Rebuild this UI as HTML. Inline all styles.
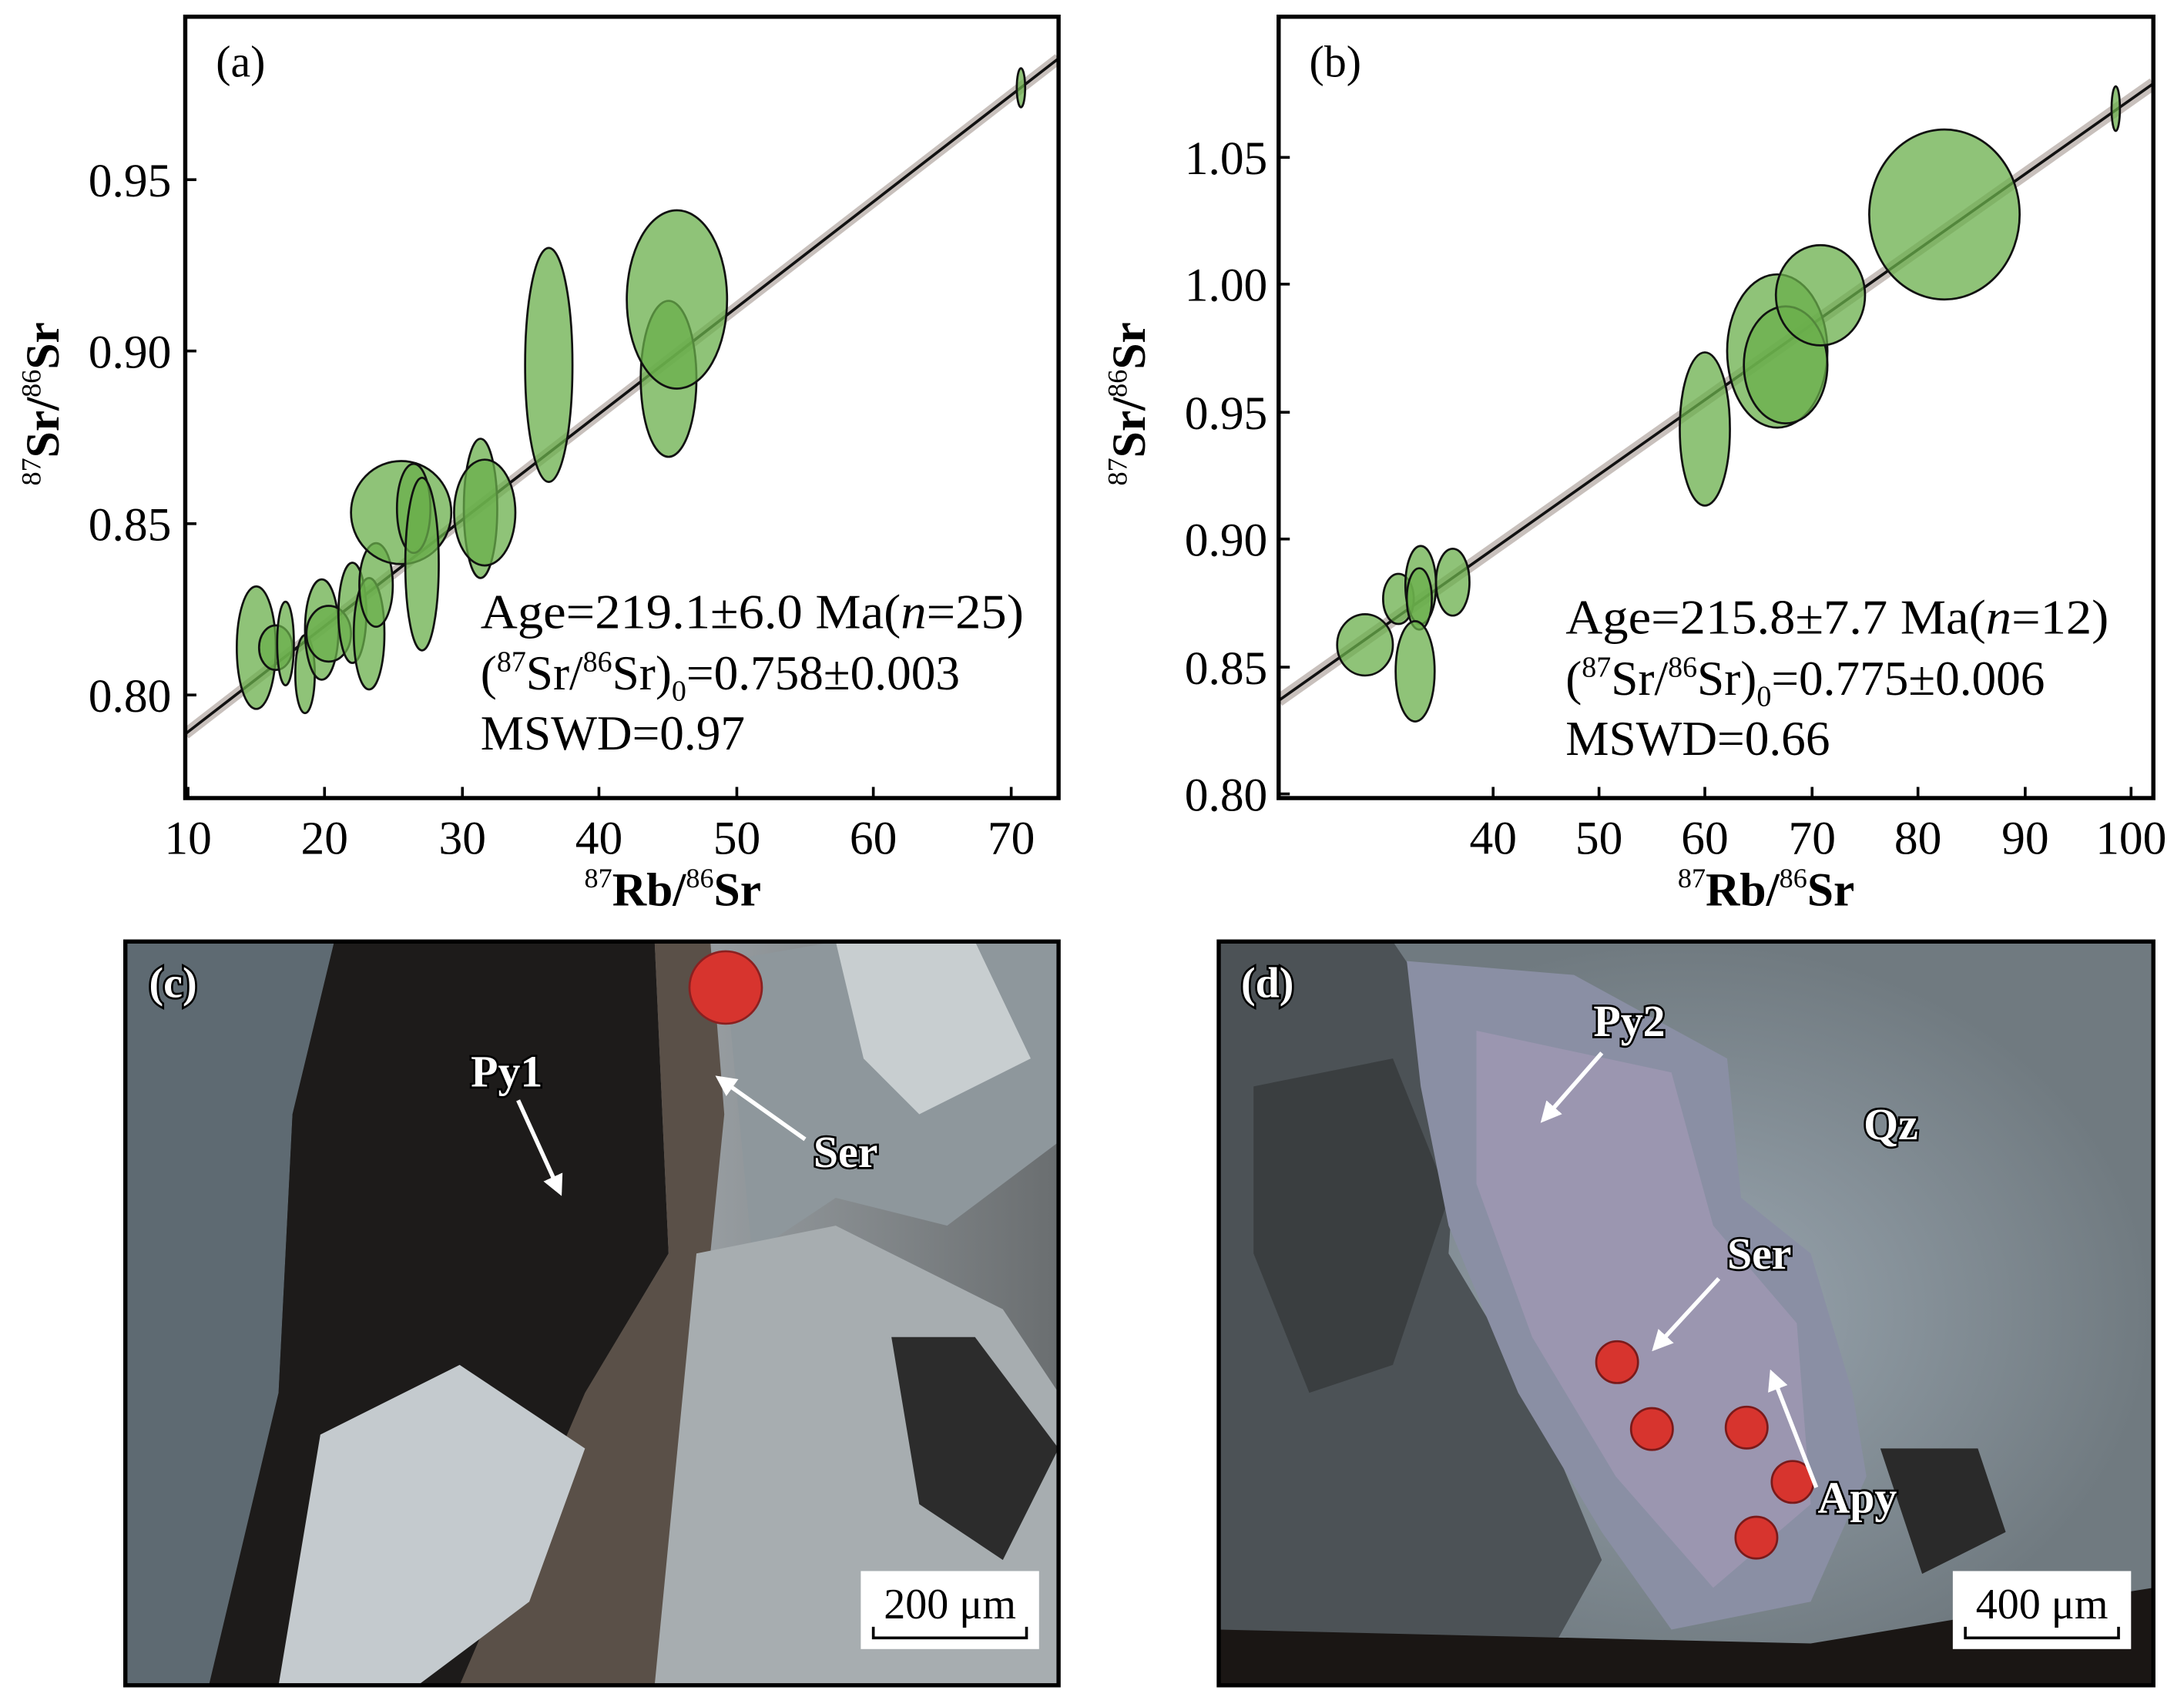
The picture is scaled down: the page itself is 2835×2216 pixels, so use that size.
<!DOCTYPE html>
<html><head><meta charset="utf-8"><style>html,body{margin:0;padding:0;background:#fff}svg{display:block}text{font-family:"Liberation Serif",serif;fill:#000}.lb{fill:#fff;stroke:#000;stroke-width:3;paint-order:stroke;font-weight:bold}</style></head>
<body>
<svg width="2835" height="2216" viewBox="0 0 1568 1225.6" preserveAspectRatio="none" xmlns="http://www.w3.org/2000/svg">
<defs>
<clipPath id="ca"><rect x="133" y="12" width="627" height="561"/></clipPath>
<clipPath id="cb"><rect x="918" y="12" width="628" height="561"/></clipPath>
<clipPath id="cc"><rect x="90" y="676" width="670" height="534"/></clipPath>
<clipPath id="cd"><rect x="875" y="676" width="671" height="534"/></clipPath>
<linearGradient id="gc" x1="0" x2="1" y1="0" y2="0"><stop offset="0" stop-color="#5a6670"/><stop offset="0.2" stop-color="#2a2a2a"/><stop offset="0.5" stop-color="#1a1a1a"/><stop offset="0.6" stop-color="#9aa0a4"/><stop offset="1" stop-color="#6a6e70"/></linearGradient>
<radialGradient id="gd" cx="0.5" cy="0.5" r="0.5"><stop offset="0" stop-color="#9aa6b0"/><stop offset="1" stop-color="#707a80"/></radialGradient>
<marker id="ah" viewBox="0 0 10 10" refX="8" refY="5" markerWidth="5" markerHeight="5" orient="auto"><path d="M0 0L10 5L0 10z" fill="#fff"/></marker>
</defs>
<!-- panel a -->
<g clip-path="url(#ca)">
<line x1="133" y1="527" x2="760" y2="42" stroke="#c8c0bc" stroke-width="8"/>
<line x1="133" y1="527" x2="760" y2="42" stroke="#111" stroke-width="2"/>
<g fill="rgba(105,175,75,0.75)" stroke="#111" stroke-width="1.5">
<ellipse cx="184" cy="465" rx="14" ry="44"/><ellipse cx="198" cy="465" rx="12" ry="16"/><ellipse cx="205" cy="462" rx="6" ry="30"/><ellipse cx="219" cy="484" rx="7" ry="28"/><ellipse cx="231" cy="452" rx="12" ry="36"/><ellipse cx="236" cy="455" rx="16" ry="20"/><ellipse cx="253" cy="440" rx="10" ry="36"/><ellipse cx="265" cy="455" rx="11" ry="40"/><ellipse cx="270" cy="420" rx="12" ry="30"/><ellipse cx="288" cy="368" rx="36" ry="37"/><ellipse cx="297" cy="365" rx="12" ry="32"/><ellipse cx="303" cy="405" rx="12" ry="62"/><ellipse cx="345" cy="365" rx="12" ry="50"/><ellipse cx="348" cy="368" rx="22" ry="38"/><ellipse cx="394" cy="262" rx="17" ry="84"/><ellipse cx="480" cy="272" rx="20" ry="56"/><ellipse cx="486" cy="215" rx="36" ry="64"/><ellipse cx="733" cy="63" rx="3" ry="14"/>
</g></g>
<rect x="133" y="12" width="627" height="561" fill="none" stroke="#000" stroke-width="3"/>
<g stroke="#000" stroke-width="2">
<line x1="135" y1="573" x2="135" y2="565"/><line x1="233" y1="573" x2="233" y2="565"/><line x1="332" y1="573" x2="332" y2="565"/><line x1="430" y1="573" x2="430" y2="565"/><line x1="529" y1="573" x2="529" y2="565"/><line x1="627" y1="573" x2="627" y2="565"/><line x1="726" y1="573" x2="726" y2="565"/>
<line x1="133" y1="129" x2="141" y2="129"/><line x1="133" y1="252" x2="141" y2="252"/><line x1="133" y1="376" x2="141" y2="376"/><line x1="133" y1="499" x2="141" y2="499"/>
</g>
<g font-size="34" text-anchor="middle">
<text x="135" y="613">10</text><text x="233" y="613">20</text><text x="332" y="613">30</text><text x="430" y="613">40</text><text x="529" y="613">50</text><text x="627" y="613">60</text><text x="726" y="613">70</text>
</g>
<g font-size="34" text-anchor="end">
<text x="123" y="141">0.95</text><text x="123" y="264">0.90</text><text x="123" y="388">0.85</text><text x="123" y="511">0.80</text>
</g>
<text x="155" y="55" font-size="32">(a)</text>
<text x="483" y="650" font-size="34" text-anchor="middle" font-weight="bold"><tspan font-size="20" dy="-13" font-weight="normal">87</tspan><tspan dy="13">Rb/</tspan><tspan font-size="20" dy="-13" font-weight="normal">86</tspan><tspan dy="13">Sr</tspan></text>
<text transform="translate(42,290) rotate(-90)" font-size="34" text-anchor="middle" font-weight="bold"><tspan font-size="20" dy="-13" font-weight="normal">87</tspan><tspan dy="13">Sr/</tspan><tspan font-size="20" dy="-13" font-weight="normal">86</tspan><tspan dy="13">Sr</tspan></text>
<g font-size="35"><text x="345" y="451" textLength="390" lengthAdjust="spacingAndGlyphs">Age=219.1±6.0 Ma(<tspan font-style="italic">n</tspan>=25)</text>
<text x="345" y="495">(<tspan font-size="21" dy="-13">87</tspan><tspan dy="13">Sr/</tspan><tspan font-size="21" dy="-13">86</tspan><tspan dy="13">Sr)</tspan><tspan font-size="21" dy="8">0</tspan><tspan dy="-8">=0.758±0.003</tspan></text>
<text x="345" y="538">MSWD=0.97</text></g>
<!-- panel b -->
<g clip-path="url(#cb)">
<line x1="918" y1="503" x2="1546" y2="60" stroke="#c8c0bc" stroke-width="9"/>
<line x1="918" y1="503" x2="1546" y2="60" stroke="#111" stroke-width="2"/>
<g fill="rgba(105,175,75,0.75)" stroke="#111" stroke-width="1.5">
<ellipse cx="980" cy="463" rx="20" ry="22"/><ellipse cx="1004" cy="430" rx="11" ry="18"/><ellipse cx="1020" cy="420" rx="11" ry="28"/><ellipse cx="1019" cy="430" rx="9" ry="22"/><ellipse cx="1016" cy="482" rx="14" ry="36"/><ellipse cx="1043" cy="418" rx="12" ry="24"/><ellipse cx="1224" cy="308" rx="18" ry="55"/><ellipse cx="1276" cy="252" rx="36" ry="55"/><ellipse cx="1282" cy="262" rx="30" ry="42"/><ellipse cx="1307" cy="212" rx="32" ry="36"/><ellipse cx="1396" cy="154" rx="54" ry="61"/><ellipse cx="1519" cy="78" rx="3" ry="16"/>
</g></g>
<rect x="918" y="12" width="628" height="561" fill="none" stroke="#000" stroke-width="3"/>
<g stroke="#000" stroke-width="2">
<line x1="1072" y1="573" x2="1072" y2="565"/><line x1="1148" y1="573" x2="1148" y2="565"/><line x1="1224" y1="573" x2="1224" y2="565"/><line x1="1301" y1="573" x2="1301" y2="565"/><line x1="1377" y1="573" x2="1377" y2="565"/><line x1="1454" y1="573" x2="1454" y2="565"/><line x1="1530" y1="573" x2="1530" y2="565"/>
<line x1="918" y1="113" x2="926" y2="113"/><line x1="918" y1="204" x2="926" y2="204"/><line x1="918" y1="296" x2="926" y2="296"/><line x1="918" y1="387" x2="926" y2="387"/><line x1="918" y1="479" x2="926" y2="479"/><line x1="918" y1="570" x2="926" y2="570"/>
</g>
<g font-size="34" text-anchor="middle">
<text x="1072" y="613">40</text><text x="1148" y="613">50</text><text x="1224" y="613">60</text><text x="1301" y="613">70</text><text x="1377" y="613">80</text><text x="1454" y="613">90</text><text x="1530" y="613">100</text>
</g>
<g font-size="34" text-anchor="end">
<text x="910" y="125">1.05</text><text x="910" y="216">1.00</text><text x="910" y="308">0.95</text><text x="910" y="399">0.90</text><text x="910" y="491">0.85</text><text x="910" y="582">0.80</text>
</g>
<text x="940" y="55" font-size="32">(b)</text>
<text x="1268" y="650" font-size="34" text-anchor="middle" font-weight="bold"><tspan font-size="20" dy="-13" font-weight="normal">87</tspan><tspan dy="13">Rb/</tspan><tspan font-size="20" dy="-13" font-weight="normal">86</tspan><tspan dy="13">Sr</tspan></text>
<text transform="translate(822,290) rotate(-90)" font-size="34" text-anchor="middle" font-weight="bold"><tspan font-size="20" dy="-13" font-weight="normal">87</tspan><tspan dy="13">Sr/</tspan><tspan font-size="20" dy="-13" font-weight="normal">86</tspan><tspan dy="13">Sr</tspan></text>
<g font-size="35"><text x="1124" y="455" textLength="390" lengthAdjust="spacingAndGlyphs">Age=215.8±7.7 Ma(<tspan font-style="italic">n</tspan>=12)</text>
<text x="1124" y="499">(<tspan font-size="21" dy="-13">87</tspan><tspan dy="13">Sr/</tspan><tspan font-size="21" dy="-13">86</tspan><tspan dy="13">Sr)</tspan><tspan font-size="21" dy="8">0</tspan><tspan dy="-8">=0.775±0.006</tspan></text>
<text x="1124" y="542">MSWD=0.66</text></g>
<!-- panel c -->
<g clip-path="url(#cc)">
<rect x="90" y="676" width="670" height="534" fill="url(#gc)"/>
<polygon points="90,676 240,676 210,800 200,1000 150,1210 90,1210" fill="#5e6a72"/>
<polygon points="240,676 470,676 480,900 420,1000 330,1210 150,1210 200,1000 210,800" fill="#1d1b1a"/>
<polygon points="470,676 510,676 520,800 500,1000 470,1210 330,1210 420,1000 480,900" fill="#5a5048"/>
<polygon points="520,690 600,676 760,676 760,820 680,880 600,860 540,900" fill="#8e979c"/>
<polygon points="600,676 700,676 740,760 660,800 620,760" fill="#c8ced0"/>
<polygon points="500,900 600,880 720,940 760,1000 760,1210 470,1210" fill="#a7adb0"/>
<polygon points="230,1030 330,980 420,1040 380,1150 300,1210 200,1210" fill="#c4cace"/>
<polygon points="640,960 700,960 760,1040 720,1120 660,1080" fill="#2c2c2c"/>
<circle cx="521" cy="709" r="26" fill="#d7342e" stroke="#8a2020" stroke-width="1.5"/>
</g>
<rect x="90" y="676" width="670" height="534" fill="none" stroke="#000" stroke-width="3"/>
<text x="107" y="716" font-size="31" class="lb">(c)</text>
<text x="338" y="780" font-size="32" class="lb">Py1</text>
<line x1="372" y1="790" x2="402" y2="856" stroke="#fff" stroke-width="3" marker-end="url(#ah)"/>
<text x="584" y="838" font-size="32" class="lb">Ser</text>
<line x1="578" y1="818" x2="516" y2="774" stroke="#fff" stroke-width="3" marker-end="url(#ah)"/>
<rect x="618" y="1128" width="128" height="56" fill="#fff"/>
<text x="682" y="1162" font-size="31" text-anchor="middle">200 μm</text>
<path d="M627 1168 v8 h110 v-8" fill="none" stroke="#000" stroke-width="2"/>
<!-- panel d -->
<g clip-path="url(#cd)">
<rect x="875" y="676" width="671" height="534" fill="url(#gd)"/>
<polygon points="875,676 1000,676 1050,750 1040,900 1100,1000 1150,1120 1100,1210 875,1210" fill="#4c5256"/>
<polygon points="900,780 1000,760 1040,860 1000,980 940,1000 900,900" fill="#3a3e40"/>
<polygon points="1010,690 1130,700 1240,760 1250,860 1300,900 1330,1000 1340,1060 1300,1150 1200,1170 1150,1100 1090,1000 1040,880 1020,780" fill="#8a8fa4"/>
<polygon points="1060,740 1200,770 1230,880 1290,950 1300,1080 1230,1140 1160,1060 1100,960 1060,850" fill="#9b96b0"/>
<polygon points="1350,1040 1420,1040 1440,1100 1380,1130" fill="#2a2a2a"/>
<polygon points="875,1170 1300,1180 1420,1160 1546,1140 1546,1210 875,1210" fill="#1a1614"/>
<g fill="#d7342e" stroke="#7a1a1a" stroke-width="1.5">
<circle cx="1161" cy="978" r="15"/><circle cx="1186" cy="1026" r="15"/><circle cx="1254" cy="1025" r="15"/><circle cx="1287" cy="1064" r="15"/><circle cx="1261" cy="1104" r="15"/>
</g>
</g>
<rect x="875" y="676" width="671" height="534" fill="none" stroke="#000" stroke-width="3"/>
<text x="891" y="716" font-size="31" class="lb">(d)</text>
<text x="1144" y="744" font-size="32" class="lb">Py2</text>
<line x1="1150" y1="756" x2="1108" y2="804" stroke="#fff" stroke-width="3" marker-end="url(#ah)"/>
<text x="1338" y="818" font-size="32" class="lb">Qz</text>
<text x="1240" y="911" font-size="32" class="lb">Ser</text>
<line x1="1234" y1="918" x2="1188" y2="968" stroke="#fff" stroke-width="3" marker-end="url(#ah)"/>
<text x="1305" y="1086" font-size="32" class="lb">Apy</text>
<line x1="1304" y1="1068" x2="1272" y2="986" stroke="#fff" stroke-width="3" marker-end="url(#ah)"/>
<rect x="1402" y="1128" width="128" height="56" fill="#fff"/>
<text x="1466" y="1162" font-size="31" text-anchor="middle">400 μm</text>
<path d="M1411 1168 v8 h110 v-8" fill="none" stroke="#000" stroke-width="2"/>
</svg>
</body></html>
